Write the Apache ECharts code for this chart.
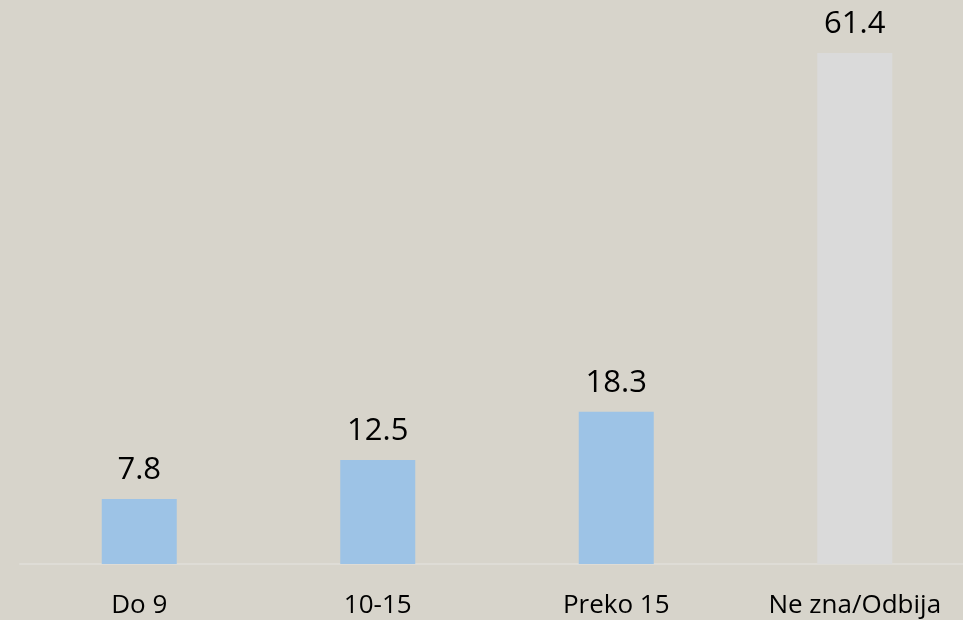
<!DOCTYPE html>
<html>
<head>
<meta charset="utf-8">
<script src="https://cdn.jsdelivr.net/npm/echarts@6/dist/echarts.min.js"></script>
<style>
  html, body { margin: 0; padding: 0; background: #d7d4cb; }
  #chart { width: 963px; height: 620px; }
</style>
</head>
<body>
<div id="chart"></div>
<script>
// kategorije i vrijednosti
var categories = ['Do 9', '10-15', 'Preko 15', 'Ne zna/Odbija'];
var values = [7.8, 12.5, 18.3, 61.4];
var barColors = ['#9dc3e6', '#9dc3e6', '#9dc3e6', '#dadada'];

var chart = echarts.init(document.getElementById('chart'));

var option = {
  backgroundColor: '#d7d4cb',
  animation: false,
  grid: {
    left: 20,
    top: 53,
    right: -11,
    bottom: 56,
    outerBoundsMode: 'none'
  },
  xAxis: {
    type: 'category',
    data: categories,
    axisLine: { show: true, lineStyle: { color: '#dedcd6', width: 2 } },
    axisTick: { show: false },
    axisLabel: {
      color: '#000',
      fontFamily: 'Open Sans',
      fontSize: 26,
      margin: 29
    }
  },
  yAxis: {
    type: 'value',
    min: 0,
    max: 61.4,
    show: false,
    splitLine: { show: false }
  },
  series: [{
    type: 'bar',
    barWidth: 75,
    data: values.map(function (v, i) {
      return { value: v, itemStyle: { color: barColors[i] } };
    }),
    label: {
      show: true,
      position: 'top',
      distance: 13,
      color: '#000',
      fontFamily: 'Open Sans',
      fontSize: 31
    }
  }]
};

chart.setOption(option);
</script>
</body>
</html>
